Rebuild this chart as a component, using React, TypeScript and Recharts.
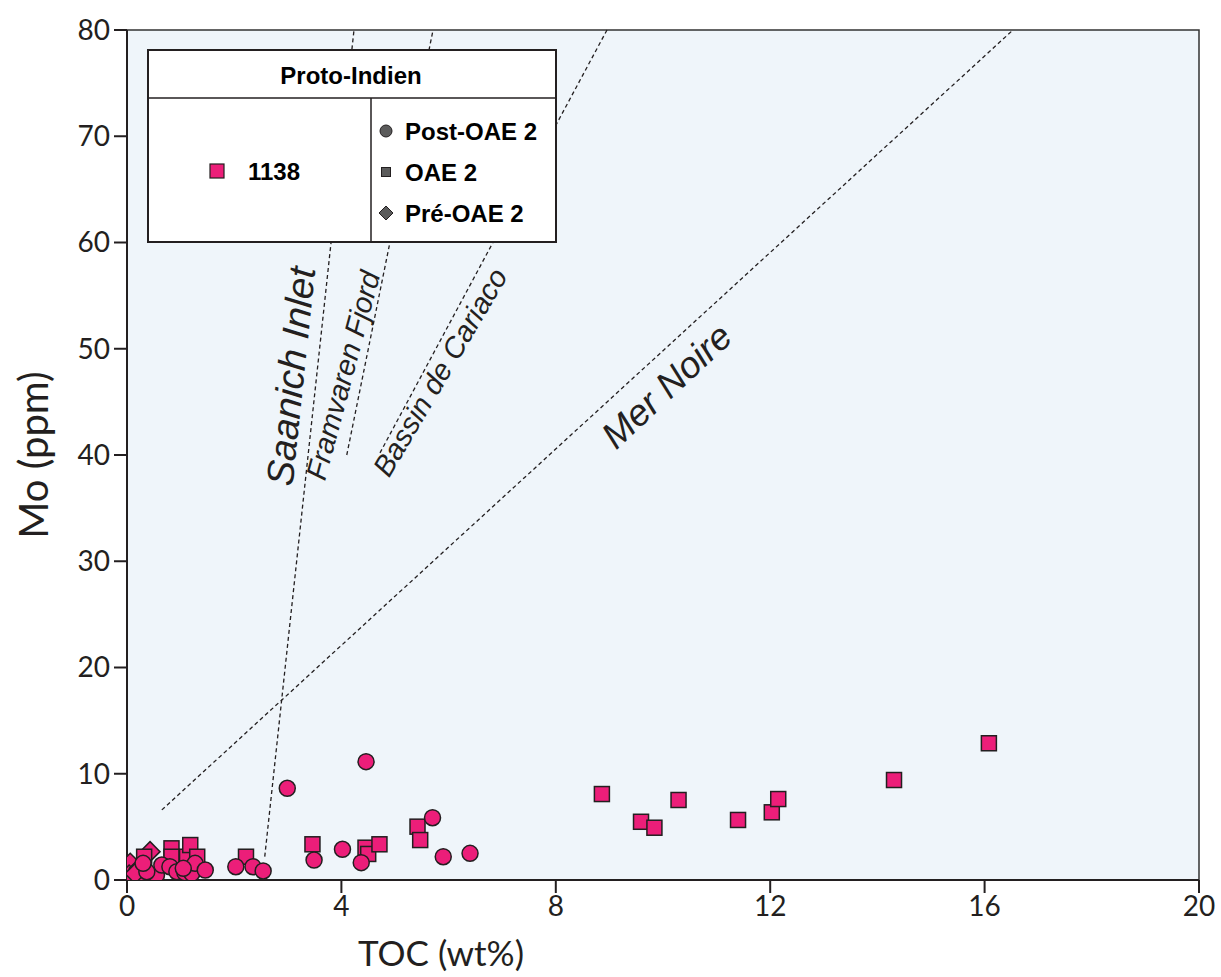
import React from "react";
import {
  ScatterChart,
  Scatter,
  XAxis,
  YAxis,
  ReferenceArea,
  ReferenceLine,
  ReferenceDot,
} from "recharts";

// Site 1138 (Proto-Indien) — TOC (wt%) vs Mo (ppm)
const xTicks = [0, 4, 8, 12, 16, 20];
const yTicks = [0, 10, 20, 30, 40, 50, 60, 70, 80];

// Post-OAE 2 (cercles)
const postToc = [0.55, 0.65, 0.8, 0.93, 1.08, 1.21, 1.27, 1.46, 0.37, 0.3, 1.05, 2.03, 2.35, 2.54, 2.99, 3.49, 4.02, 4.37, 4.46, 5.7, 5.9, 6.4];
const postMo = [0.47, 1.41, 1.25, 0.78, 0.69, 0.62, 1.57, 0.94, 0.78, 1.57, 1.1, 1.25, 1.25, 0.85, 8.63, 1.88, 2.89, 1.63, 11.14, 5.86, 2.19, 2.51];

// OAE 2 (carrés)
const oaeToc = [0.32, 0.83, 0.83, 1.12, 1.18, 1.31, 2.22, 3.46, 4.45, 4.5, 4.71, 5.42, 5.47, 8.86, 9.59, 9.84, 10.29, 11.4, 12.03, 12.15, 14.31, 16.08];
const oaeMo = [2.19, 2.98, 2.19, 2.19, 3.29, 2.19, 2.19, 3.36, 3.04, 2.45, 3.36, 5.02, 3.76, 8.09, 5.48, 4.92, 7.53, 5.65, 6.37, 7.62, 9.41, 12.87];

// Pré-OAE 2 (losanges)
const preToc = [0.06, 0.04, 0.23, 0.43, 0.27, 0.15];
const preMo = [1.57, 0.47, 1.1, 2.67, 0.19, 0.6];

// droites de référence [TOC, Mo] début / fin
const basinNames = ["Saanich Inlet", "Framvaren Fjord", "Bassin de Cariaco", "Mer Noire"];
const basinStart = [[2.57, 2.2], [4.1, 40], [4.72, 40.2], [0.65, 6.6]];
const basinEnd = [[4.235, 80], [5.71, 80], [8.955, 80], [16.53, 80]];

const PINK = "#ec1e79";
const INK = "#231f20";

const toPoints = (xs: number[], ys: number[]) => xs.map((toc, i) => ({ toc, mo: ys[i] }));

const CircleMark = (p: any) => (
  <circle cx={p.cx} cy={p.cy} r={8} fill={PINK} stroke={INK} strokeWidth={1.5} />
);
const SquareMark = (p: any) => (
  <rect x={p.cx - 7.5} y={p.cy - 7.5} width={15} height={15} fill={PINK} stroke={INK} strokeWidth={1.5} />
);
const DiamondMark = (p: any) => (
  <polygon
    points={`${p.cx},${p.cy - 10} ${p.cx + 10},${p.cy} ${p.cx},${p.cy + 10} ${p.cx - 10},${p.cy}`}
    fill={PINK}
    stroke={INK}
    strokeWidth={1.5}
  />
);

// label placement for each basin line: anchor (data coords), angle, font size
const labelAnchor = [
  { toc: 3.06, mo: 47.4, angle: -84, size: 38 },
  { toc: 4.03, mo: 47.5, angle: -75, size: 29 },
  { toc: 5.84, mo: 47.8, angle: -59.5, size: 29 },
  { toc: 10.07, mo: 46.5, angle: -43, size: 37 },
];

const rotatedLabel = (text: string, angle: number, size: number) => (p: any) => (
  <text
    x={p.cx}
    y={p.cy}
    textAnchor="middle"
    dominantBaseline="central"
    transform={`rotate(${angle} ${p.cx} ${p.cy})`}
    fontFamily="'Liberation Sans', Arial, sans-serif"
    fontStyle="italic"
    fontSize={size}
    fill={INK}
  >
    {text}
  </text>
);

const legendFont = "'Liberation Sans', Arial, sans-serif";

function Overlay() {
  return (
    <svg
      width={1221}
      height={977}
      style={{ position: "absolute", left: 0, top: 0, pointerEvents: "none" }}
    >
      {/* axis titles */}
      <text x={441} y={952} textAnchor="middle" dominantBaseline="central" fontFamily="Lato, sans-serif" fontSize={35} fill={INK}>
        TOC (wt%)
      </text>
      <text
        x={33}
        y={455}
        textAnchor="middle"
        dominantBaseline="central"
        transform="rotate(-90 33 455)"
        fontFamily="Lato, sans-serif"
        fontSize={40}
        fill={INK}
      >
        Mo (ppm)
      </text>

      {/* legend box */}
      <rect x={148} y={50} width={408} height={192} fill="#fff" stroke={INK} strokeWidth={2} />
      <line x1={148} y1={98} x2={556} y2={98} stroke={INK} strokeWidth={1.5} />
      <line x1={371} y1={98} x2={371} y2={242} stroke={INK} strokeWidth={1.5} />
      <text x={351} y={75} textAnchor="middle" dominantBaseline="central" fontFamily={legendFont} fontWeight="bold" fontSize={24} fill="#000">
        Proto-Indien
      </text>
      <rect x={210} y={164} width={14} height={14} fill={PINK} stroke={INK} strokeWidth={1.2} />
      <text x={248} y={171} dominantBaseline="central" fontFamily={legendFont} fontWeight="bold" fontSize={24} fill="#000">
        1138
      </text>
      <circle cx={386} cy={131} r={6} fill="#5b5b5b" stroke={INK} strokeWidth={1} />
      <text x={405} y={131} dominantBaseline="central" fontFamily={legendFont} fontWeight="bold" fontSize={24} fill="#000">
        Post-OAE 2
      </text>
      <rect x={381.5} y={167.5} width={9} height={9} fill="#5b5b5b" stroke={INK} strokeWidth={1} />
      <text x={405} y={172} dominantBaseline="central" fontFamily={legendFont} fontWeight="bold" fontSize={24} fill="#000">
        OAE 2
      </text>
      <polygon points="386,206 393,213 386,220 379,213" fill="#5b5b5b" stroke={INK} strokeWidth={1} />
      <text x={405} y={213} dominantBaseline="central" fontFamily={legendFont} fontWeight="bold" fontSize={24} fill="#000">
        Pré-OAE 2
      </text>
    </svg>
  );
}

export default function App() {
  const post = toPoints(postToc, postMo);
  const oae = toPoints(oaeToc, oaeMo);
  const pre = toPoints(preToc, preMo);

  return (
    <div style={{ position: "absolute", left: 0, top: 0, width: 1221, height: 977, background: "#fff" }}>
      <ScatterChart width={1221} height={977} margin={{ top: 30, right: 22, bottom: 0, left: 0 }}>
        <XAxis
          type="number"
          dataKey="toc"
          domain={[0, 20]}
          ticks={xTicks}
          allowDataOverflow
          height={97}
          tickSize={13}
          tickMargin={3}
          stroke={INK}
          strokeWidth={2}
          tick={{ fill: INK, fontSize: 28, fontFamily: "Lato, sans-serif" }}
        />
        <YAxis
          type="number"
          dataKey="mo"
          domain={[0, 80]}
          ticks={yTicks}
          allowDataOverflow
          width={127}
          tickSize={13}
          tickMargin={4}
          stroke={INK}
          strokeWidth={2}
          tick={{ fill: INK, fontSize: 28, fontFamily: "Lato, sans-serif" }}
        />
        <ReferenceArea
          x1={0}
          x2={20}
          y1={0}
          y2={80}
          fill="#eff5fa"
          fillOpacity={1}
          stroke="#333"
          strokeWidth={1.5}
        />
        {basinNames.map((name, i) => (
          <ReferenceLine
            key={name}
            segment={[
              { x: basinStart[i][0], y: basinStart[i][1] },
              { x: basinEnd[i][0], y: basinEnd[i][1] },
            ]}
            stroke={INK}
            strokeWidth={1.3}
            strokeDasharray="4 3"
          />
        ))}
        {basinNames.map((name, i) => (
          <ReferenceDot
            key={"lbl-" + name}
            x={labelAnchor[i].toc}
            y={labelAnchor[i].mo}
            r={0}
            shape={rotatedLabel(name, labelAnchor[i].angle, labelAnchor[i].size)}
          />
        ))}
        <Scatter name="Pré-OAE 2" data={pre} shape={DiamondMark} isAnimationActive={false} />
        <Scatter name="OAE 2" data={oae} shape={SquareMark} isAnimationActive={false} />
        <Scatter name="Post-OAE 2" data={post} shape={CircleMark} isAnimationActive={false} />
      </ScatterChart>
      <Overlay />
    </div>
  );
}
